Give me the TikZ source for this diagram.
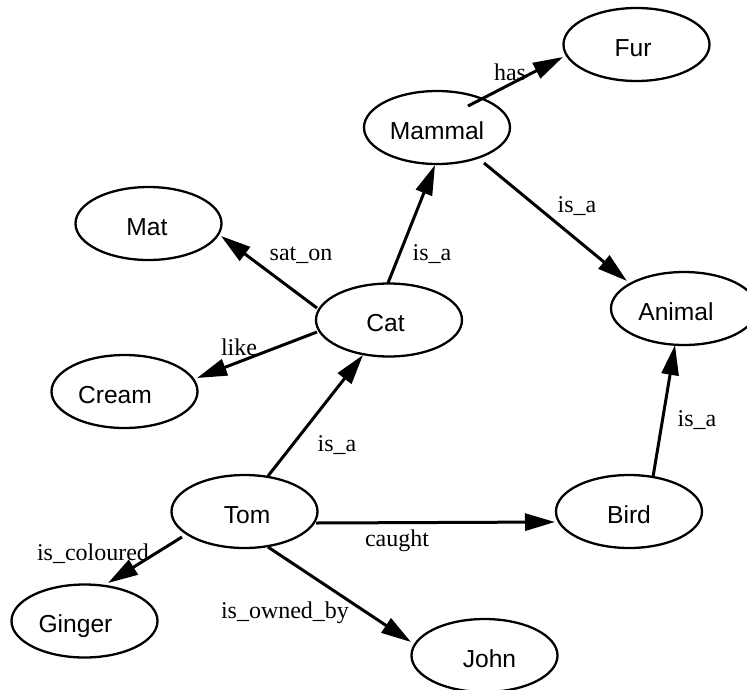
\documentclass[tikz,border=0pt]{standalone}
\usepackage{fontspec}
\setmainfont{Liberation Serif}
\newfontfamily\nodesans{Liberation Sans}
\usetikzlibrary{arrows.meta,shapes.geometric,calc}
\begin{document}
\begin{tikzpicture}[x=1pt,y=-1pt,
  concept/.style={ellipse,draw,line width=2.3pt,minimum width=146pt,minimum height=73pt,inner sep=0pt,
    font=\nodesans\fontsize{24.6}{28}\selectfont,text height=23pt,text depth=0pt},
  rel/.style={line width=3pt,-{Triangle[length=30pt,width=17pt]}},
  lbl/.style={anchor=base,inner sep=0pt,font=\fontsize{24}{28}\selectfont}]
\useasboundingbox (0,0) rectangle (747,689);
% concepts
\node[concept] (fur)    at (636.5,44.5)  {\hspace*{-7pt}Fur};
\node[concept] (mammal) at (437,127.5)   {Mammal};
\node[concept] (mat)    at (148.5,223.5) {\hspace*{-3pt}Mat};
\node[concept] (cat)    at (389,320)     {\hspace*{-7pt}Cat};
\node[concept] (animal) at (684,308.5)   {\hspace*{-16pt}Animal};
\node[concept] (cream)  at (124.5,391.5) {\hspace*{-19pt}Cream};
\node[concept] (tom)    at (244.5,511.5) {\hspace*{5pt}Tom};
\node[concept] (bird)   at (629,511.5)   {Bird};
\node[concept] (ginger) at (84.5,621)    {\hspace*{-18pt}Ginger};
\node[concept] (john)   at (484.5,655.5) {\hspace*{10pt}John};
% relations
\draw[rel] ($(mammal)+(31,-21.5)$) -- ($(fur)+(-73.5,12.5)$);
\draw[rel] ($(mammal)+(47,35.5)$) -- ($(animal)+(-57,-27.5)$);
\draw[rel] ($(cat)+(-1,-37)$) -- ($(mammal)+(-2,37.5)$);
\draw[rel] ($(cat)+(-72,-12)$) -- ($(mat)+(72.5,12.5)$);
\draw[rel] ($(cat)+(-72,12)$) -- ($(cream)+(72.5,-13.5)$);
\draw[rel] ($(tom)+(23.5,-35.5)$) -- ($(cat)+(-26,35)$);
\draw[rel] ($(tom)+(71.5,11.5)$) -- ($(bird)+(-74,10.5)$);
\draw[rel] ($(tom)+(-62.5,25.5)$) -- ($(ginger)+(23.5,-38)$);
\draw[rel] ($(tom)+(23.5,35.5)$) -- ($(john)+(-73.5,-13.5)$);
\draw[rel] ($(bird)+(24,-34.5)$) -- ($(animal)+(-9,36.5)$);
% labels
\node[lbl] (l1)  at (510,80)    {has};
\node[lbl] (l2)  at (577,212)   {is\_a};
\node[lbl] (l3)  at (432,260)   {is\_a};
\node[lbl] (l4)  at (301,260)   {sat\_on};
\node[lbl] (l5)  at (239,355)   {like};
\node[lbl] (l6)  at (337,451.5) {is\_a};
\node[lbl] (l7)  at (397,546)   {caught};
\node[lbl] (l8)  at (93,560)    {is\_coloured};
\node[lbl] (l9)  at (285,618)   {is\_owned\_by};
\node[lbl] (l10) at (697,426.5) {is\_a};
\end{tikzpicture}
\end{document}
